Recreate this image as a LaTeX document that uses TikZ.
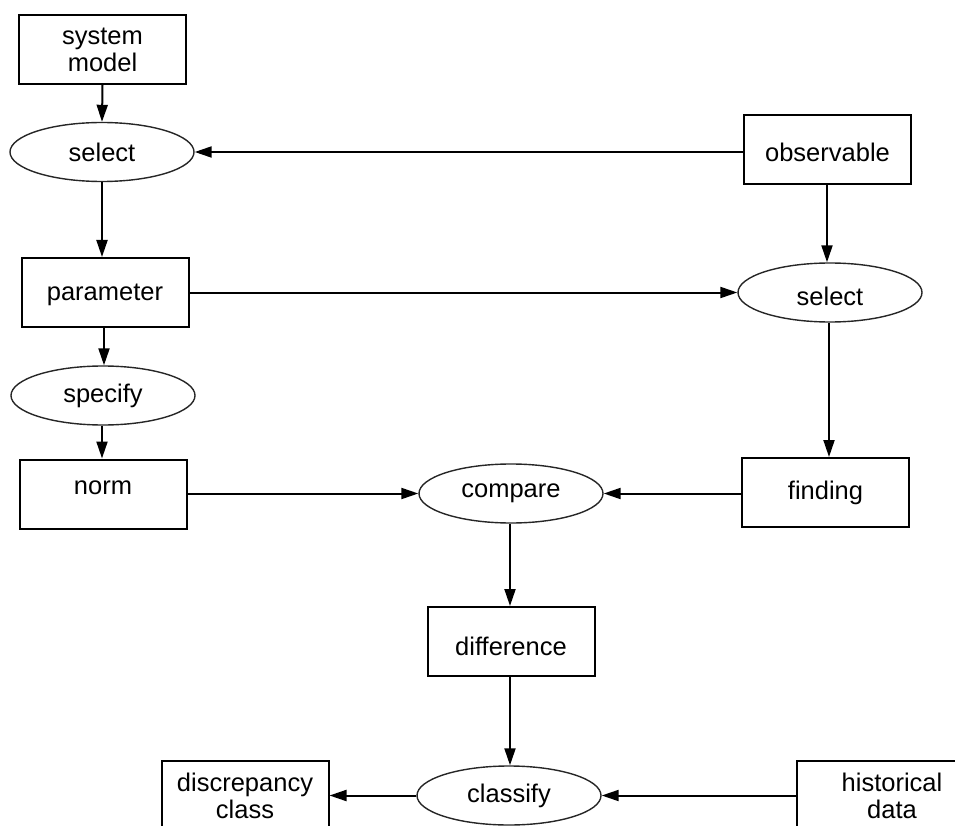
\documentclass[tikz,border=0pt]{standalone}
\usepackage{fontspec}
\setmainfont{Liberation Sans}
\usetikzlibrary{shapes.geometric,arrows.meta}
\begin{document}
\begin{tikzpicture}[x=1pt,y=-1pt,
  every node/.style={font=\fontsize{25.5}{27}\selectfont, inner sep=0pt, align=center},
  boxnode/.style={draw, line width=2pt, minimum width=167pt, minimum height=69pt},
  ellnode/.style={draw, ellipse, line width=1.4pt, draw=black!85, minimum width=184pt, minimum height=59pt},
  conn/.style={line width=2pt, -{Triangle[length=17pt,width=11pt]}},
  line/.style={line width=2pt}]
\useasboundingbox (0,0) rectangle (955,826);
\newcommand{\rs}[2]{\raisebox{#1}[\height][\depth]{#2}}
% nodes
\node[boxnode] (sm) at (102.5,49.5) {system\\model};
\node[ellnode] (sel1) at (102,152) {select};
\node[boxnode] (par) at (105,292.5) {\rs{-2.5pt}{parameter}};
\node[ellnode] (spec) at (103,395.5) {specify};
\node[boxnode] (norm) at (103,494) {\rs{6pt}{norm}};
\node[boxnode] (obs) at (827.5,150) {\rs{-2pt}{observable}};
\node[ellnode] (sel2) at (830,292.5) {\rs{-4pt}{select}};
\node[boxnode] (find) at (825.5,492.5) {finding};
\node[ellnode] (comp) at (511,493.5) {compare};
\node[boxnode] (diff) at (511,641.5) {\rs{-5pt}{difference}};
\node[ellnode] (cls) at (509,795.5) {classify};
\node[boxnode] (disc) at (245,795.5) {discrepancy\\class};
\node[boxnode, minimum width=190pt] (hist) at (892,795.5) {historical\\data};
% connectors
\draw[conn] (sm.south) -- (sel1.north);
\draw[conn] (obs.west |- sel1.east) -- (sel1.east);
\draw[conn] (sel1.south) -- (sel1.south |- par.north);
\draw[conn] (par.east |- sel2.west) -- (sel2.west);
\draw[conn] (par.south -| 104,0) -- (spec.north -| 104,0);
\draw[conn] (spec.south -| 102,0) -- (norm.north -| 102,0);
\draw[conn] (norm.east |- comp.west) -- (comp.west);
\draw[conn] (find.west |- comp.east) -- (comp.east);
\draw[conn] (obs.south -| 827,0) -- (sel2.north -| 827,0);
\draw[conn] (sel2.south -| 829,0) -- (find.north -| 829,0);
\draw[conn] (comp.south -| 510,0) -- (diff.north -| 510,0);
\draw[conn] (diff.south -| 510,0) -- (cls.north -| 510,0);
\draw[conn] (cls.west) -- (cls.west -| disc.east);
\draw[conn] (hist.west |- cls.east) -- (cls.east);
\end{tikzpicture}
\end{document}
